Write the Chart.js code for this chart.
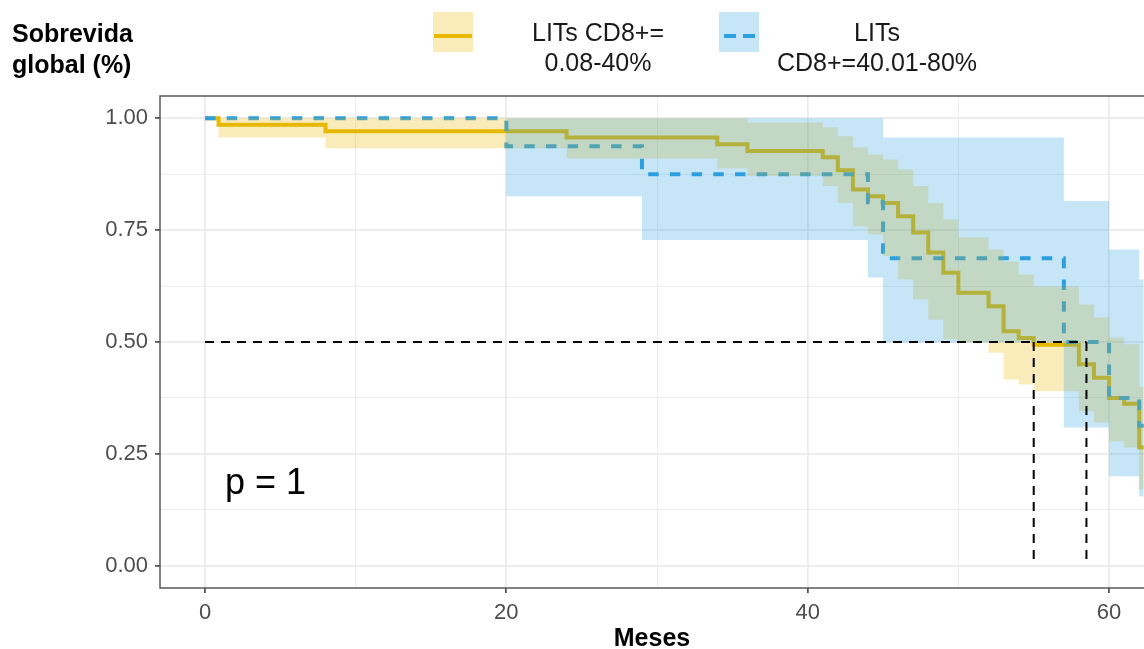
<!DOCTYPE html>
<html>
<head>
<meta charset="utf-8">
<script src="https://cdn.jsdelivr.net/npm/chart.js@4.4.1/dist/chart.umd.min.js"></script>
<style>
  html, body { margin: 0; padding: 0; background: #fff; }
  #wrap { position: relative; width: 1144px; height: 649px; overflow: hidden; font-family: "Liberation Sans", Arial, sans-serif; }
  #km { position: absolute; left: 0; top: 0; }
  .ytitle { position: absolute; left: 12px; top: 18px; font-weight: bold; font-size: 25px; line-height: 31px; color: #000; }
  .key { position: absolute; top: 12px; width: 40px; height: 40px; }
  .key1 { left: 433px; background: rgba(231,184,0,0.27); }
  .key2 { left: 719px; background: rgba(46,159,223,0.27); }
  .key span { position: absolute; top: 22px; height: 4px; }
  .key1 span { left: 1px; width: 38px; background: #E7B800; }
  .key2 span { background: #2E9FDF; width: 12px; }
  .lt { position: absolute; top: 17px; font-size: 25px; line-height: 30px; text-align: center; color: #1a1a1a; transform: translateX(-50%); white-space: nowrap; }
</style>
</head>
<body>
<div id="wrap">
  <canvas id="km" width="1144" height="649"></canvas>
  <div class="ytitle">Sobrevida<br>global (%)</div>
  <div class="key key1"><span></span></div>
  <div class="lt" style="left:598px">LITs CD8+=<br>0.08-40%</div>
  <div class="key key2"><span style="left:5px"></span><span style="left:24px"></span></div>
  <div class="lt" style="left:877px">LITs<br>CD8+=40.01-80%</div>
</div>
<script>
// Courbes de Kaplan-Meier (mois, survie, IC95)
const timesA = [0, 0.9, 8, 24, 34, 36, 41, 42, 43, 44, 45, 46, 47, 48, 49, 50, 52, 53, 54, 55, 58, 59, 60, 61, 62, 62.3];
const survA  = [1, 0.986, 0.971, 0.957, 0.942, 0.927, 0.913, 0.884, 0.841, 0.826, 0.811, 0.781, 0.745, 0.700, 0.655, 0.610, 0.580, 0.524, 0.509, 0.494, 0.450, 0.420, 0.375, 0.362, 0.264, 0.264];
const upperA = [1, 1, 1, 1, 1, 0.991, 0.980, 0.960, 0.935, 0.919, 0.908, 0.886, 0.849, 0.811, 0.774, 0.734, 0.707, 0.680, 0.651, 0.624, 0.584, 0.555, 0.510, 0.495, 0.400, 0.400];
const lowerA = [1, 0.957, 0.933, 0.910, 0.888, 0.871, 0.849, 0.811, 0.759, 0.741, 0.692, 0.640, 0.595, 0.550, 0.506, 0.499, 0.476, 0.416, 0.405, 0.390, 0.345, 0.320, 0.278, 0.264, 0.170, 0.170];

const timesB = [0, 20, 29, 44, 45, 57, 60, 62, 62.3];
const survB  = [1, 0.9375, 0.875, 0.8125, 0.6875, 0.5, 0.375, 0.3125, 0.3125];
const upperB = [1, 1, 1, 1, 0.957, 0.815, 0.707, 0.640, 0.640];
const lowerB = [1, 0.826, 0.728, 0.644, 0.499, 0.309, 0.200, 0.155, 0.155];

const medians = [55, 58.5];
const medianLevel = 0.5;
const pLabel = "p = 1";
const pPos = [1.33, 0.16];

const xTicks = [0, 10, 20, 30, 40, 50, 60];
const xTickLabels = ["0", "", "20", "", "40", "", "60"];
const yTicks = [0, 0.125, 0.25, 0.375, 0.5, 0.625, 0.75, 0.875, 1];
const yTickLabels = ["0.00", "", "0.25", "", "0.50", "", "0.75", "", "1.00"];

const YELLOW = "#E7B800", BLUE = "#2E9FDF";
const FONT = "'Liberation Sans', Arial, sans-serif";

const pts = (xs, ys) => xs.map((x, i) => ({ x, y: ys[i] }));
const ribbon = (xs, ys, extra) => Object.assign({
  data: pts(xs, ys), stepped: true, pointRadius: 0, borderWidth: 0, borderColor: "transparent",
}, extra);

const datasets = [
  // medianes (au-dessus de tout)
  { data: [{ x: 0, y: medianLevel }, { x: Math.max(...medians), y: medianLevel }], borderColor: "#000", borderWidth: 2, borderDash: [9, 7], pointRadius: 0, order: 0 },
  ...medians.map(m => ({ data: [{ x: m, y: medianLevel }, { x: m, y: 0 }], borderColor: "#000", borderWidth: 2, borderDash: [9, 7], pointRadius: 0, order: 0 })),
  // bandes IC
  ribbon(timesB, upperB, { fill: "+1", backgroundColor: "rgba(46,159,223,0.27)", order: 1 }),
  ribbon(timesB, lowerB, { fill: false, order: 1 }),
  ribbon(timesA, upperA, { fill: "+1", backgroundColor: "rgba(231,184,0,0.27)", order: 2 }),
  ribbon(timesA, lowerA, { fill: false, order: 2 }),
  // courbes
  { data: pts(timesB, survB), stepped: true, borderColor: BLUE, borderWidth: 4, borderDash: [10.5, 11.2], borderCapStyle: "butt", pointRadius: 0, fill: false, order: 3 },
  { data: pts(timesA, survA), stepped: true, borderColor: YELLOW, borderWidth: 4, pointRadius: 0, fill: false, order: 4 },
];

const isMajor = (vals, v) => vals.indexOf(v) % 2 === 0;

const extras = {
  id: "extras",
  afterDatasetsDraw(chart) {
    const { ctx, scales: { x, y } } = chart;
    ctx.save();
    ctx.fillStyle = "#000";
    ctx.font = "36px " + FONT;
    ctx.textBaseline = "alphabetic";
    ctx.fillText(pLabel, x.getPixelForValue(pPos[0]), y.getPixelForValue(pPos[1]));
    ctx.restore();
  },
  afterDraw(chart) {
    const a = chart.chartArea, ctx = chart.ctx;
    ctx.save();
    ctx.strokeStyle = "#5a5a5a";
    ctx.lineWidth = 1.5;
    ctx.strokeRect(a.left, a.top, a.right - a.left + 10, a.bottom - a.top);
    ctx.restore();
  },
};

new Chart(document.getElementById("km"), {
  type: "line",
  data: { datasets },
  plugins: [extras],
  options: {
    responsive: false,
    animation: false,
    layout: { padding: { top: 96, right: 0, left: 0, bottom: 0 } },
    plugins: { legend: { display: false }, tooltip: { enabled: false } },
    scales: {
      x: {
        type: "linear", min: -2.987, max: 62.32,
        afterBuildTicks: s => { s.ticks = xTicks.map(v => ({ value: v })); },
        afterFit: s => { s.height = 61; },
        ticks: { autoSkip: false, maxRotation: 0, padding: 7, color: "#4D4D4D", font: { family: FONT, size: 22 },
          callback: (v, i) => xTickLabels[i] },
        grid: {
          color: "#EBEBEB",
          lineWidth: c => isMajor(xTicks, c.tick.value) ? 1.8 : 0.9,
          tickColor: c => isMajor(xTicks, c.tick.value) ? "#333" : "rgba(0,0,0,0)",
          tickLength: 5, tickWidth: 1.5,
        },
        border: { display: false },
        title: { display: true, text: "Meses", color: "#000", font: { family: FONT, size: 25, weight: "bold", lineHeight: 1 }, padding: { top: 0, bottom: -3 } },
      },
      y: {
        type: "linear", min: -0.05, max: 1.05,
        afterBuildTicks: s => { s.ticks = yTicks.map(v => ({ value: v })); },
        afterFit: s => { s.width = 160; },
        ticks: { autoSkip: false, padding: 7, color: "#4D4D4D", font: { family: FONT, size: 22 },
          callback: (v, i) => yTickLabels[i] },
        grid: {
          color: "#EBEBEB",
          lineWidth: c => isMajor(yTicks, c.tick.value) ? 1.8 : 0.9,
          tickColor: c => isMajor(yTicks, c.tick.value) ? "#333" : "rgba(0,0,0,0)",
          tickLength: 5, tickWidth: 1.5,
        },
        border: { display: false },
      },
    },
  },
});
</script>
</body>
</html>
